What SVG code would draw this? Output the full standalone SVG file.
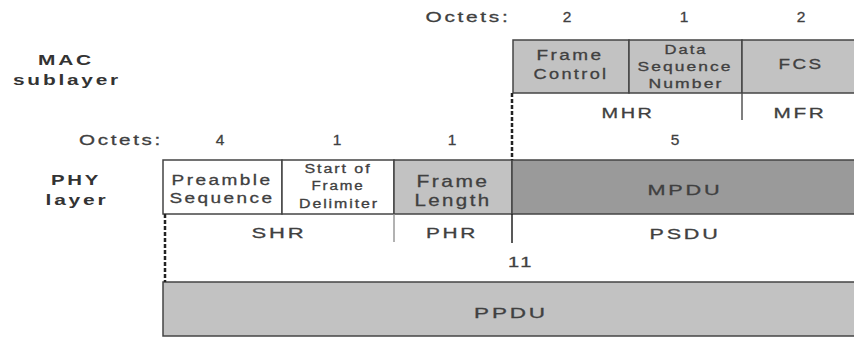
<svg xmlns="http://www.w3.org/2000/svg" width="854" height="338" viewBox="0 0 854 338">
<style>
text{font-family:"Liberation Sans",Arial,sans-serif;fill:#404040;stroke:#404040;stroke-width:0.3;text-anchor:middle;letter-spacing:2px}
.t{font-size:15.5px}
.s{font-size:12.5px;letter-spacing:1.5px}
.b{font-size:15px;font-weight:bold;fill:#333;stroke:none}
.l{font-size:17px}
.box{stroke:#444;stroke-width:1.5}
.light{fill:#c2c2c2}
.dark{fill:#9a9a9a}
.white{fill:#fff}
.div{stroke:#555;stroke-width:1.5}
.dash{stroke:#222;stroke-width:2.5;stroke-dasharray:4,2;fill:none}
</style>
<rect width="854" height="338" fill="#fff"/>
<g id="labels">
<text class="t" x="468" y="22" textLength="85" lengthAdjust="spacingAndGlyphs">Octets:</text>
<text class="t" x="568" y="22">2</text>
<text class="t" x="685" y="22">1</text>
<text class="t" x="802" y="22">2</text>
<text class="b" x="66" y="65" textLength="56" lengthAdjust="spacingAndGlyphs">MAC</text>
<text class="b" x="67" y="85" textLength="108" lengthAdjust="spacingAndGlyphs">sublayer</text>
<text class="t" x="121" y="145" textLength="84" lengthAdjust="spacingAndGlyphs">Octets:</text>
<text class="t" x="221" y="145">4</text>
<text class="t" x="338" y="145">1</text>
<text class="t" x="453" y="145">1</text>
<text class="t" x="676" y="145">5</text>
<text class="b" x="76" y="185" textLength="50" lengthAdjust="spacingAndGlyphs">PHY</text>
<text class="b" x="77" y="205" textLength="63" lengthAdjust="spacingAndGlyphs">layer</text>
</g>
<g id="frame-control">
<rect class="box light" x="513" y="40" width="116" height="53"/>
<text class="t" x="570" y="60" textLength="67" lengthAdjust="spacingAndGlyphs">Frame</text>
<text class="t" x="571" y="79" textLength="75" lengthAdjust="spacingAndGlyphs">Control</text>
</g>
<g id="data-sequence-number">
<rect class="box light" x="629" y="40" width="113" height="53"/>
<text class="s" x="686" y="54" textLength="43" lengthAdjust="spacingAndGlyphs">Data</text>
<text class="s" x="685" y="71" textLength="95" lengthAdjust="spacingAndGlyphs">Sequence</text>
<text class="s" x="686" y="88" textLength="75" lengthAdjust="spacingAndGlyphs">Number</text>
</g>
<g id="fcs">
<rect class="box light" x="742" y="40" width="114" height="53"/>
<text class="t" x="801" y="69" textLength="45" lengthAdjust="spacingAndGlyphs">FCS</text>
</g>
<g id="mhr"><text class="t" x="628" y="118" textLength="53" lengthAdjust="spacingAndGlyphs">MHR</text></g>
<g id="mfr"><text class="t" x="800" y="118" textLength="53" lengthAdjust="spacingAndGlyphs">MFR</text></g>
<g id="preamble">
<rect class="box white" x="163" y="160" width="119" height="54"/>
<text class="t" x="222" y="185" textLength="101" lengthAdjust="spacingAndGlyphs">Preamble</text>
<text class="t" x="222" y="203" textLength="105" lengthAdjust="spacingAndGlyphs">Sequence</text>
</g>
<g id="sfd">
<rect class="box white" x="282" y="160" width="112" height="54"/>
<text class="s" x="338" y="173" textLength="67" lengthAdjust="spacingAndGlyphs">Start of</text>
<text class="s" x="338" y="190" textLength="53" lengthAdjust="spacingAndGlyphs">Frame</text>
<text class="s" x="339" y="208" textLength="80" lengthAdjust="spacingAndGlyphs">Delimiter</text>
</g>
<g id="frame-length">
<rect class="box light" x="394" y="160" width="118" height="54"/>
<text class="l" x="453" y="187" textLength="73" lengthAdjust="spacingAndGlyphs">Frame</text>
<text class="l" x="453" y="206" textLength="77" lengthAdjust="spacingAndGlyphs">Length</text>
</g>
<g id="mpdu">
<rect class="box dark" x="512" y="160" width="344" height="54"/>
<text class="t" x="685" y="195" textLength="75" lengthAdjust="spacingAndGlyphs">MPDU</text>
</g>
<g id="shr"><text class="t" x="279" y="238" textLength="55" lengthAdjust="spacingAndGlyphs">SHR</text></g>
<g id="phr"><text class="t" x="452" y="238" textLength="52" lengthAdjust="spacingAndGlyphs">PHR</text></g>
<g id="psdu"><text class="t" x="685" y="239" textLength="71" lengthAdjust="spacingAndGlyphs">PSDU</text></g>
<g id="total"><text class="t" x="521" y="267" textLength="26" lengthAdjust="spacingAndGlyphs">11</text></g>
<g id="ppdu">
<rect class="box light" x="163" y="282" width="693" height="54"/>
<text class="t" x="511" y="318" textLength="74" lengthAdjust="spacingAndGlyphs">PPDU</text>
</g>
<g id="connectors">
<line class="dash" x1="512" y1="93" x2="512" y2="160"/>
<line class="dash" x1="165" y1="214" x2="165" y2="282"/>
<line class="div" x1="742" y1="93" x2="742" y2="120"/>
<line class="div" x1="394" y1="214" x2="394" y2="242" style="stroke:#999"/>
<line class="div" x1="512" y1="214" x2="512" y2="243" style="stroke:#222"/>
</g>
</svg>
